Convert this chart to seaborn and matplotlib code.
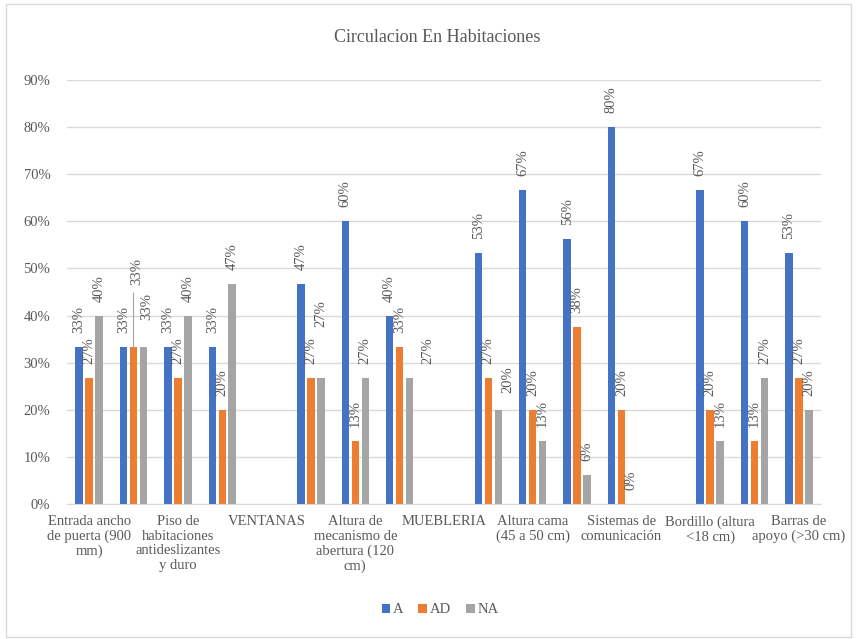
import pandas as pd
import matplotlib.pyplot as plt
import seaborn as sns
from matplotlib.patches import Rectangle

# data (percent); empty groups are section headers with no values
items = list(range(1, 18))
tick_labels = ["Entrada ancho\nde puerta (900\nmm)", "",
               "Piso de\nhabitaciones\nantideslizantes\ny duro", "",
               "VENTANAS", "",
               "Altura de\nmecanismo de\nabertura (120\ncm)", "",
               "MUEBLERIA", "",
               "Altura cama\n(45 a 50 cm)", "",
               "Sistemas de\ncomunicación", "",
               "Bordillo (altura\n<18 cm)", "",
               "Barras de\napoyo (>30 cm)"]
A  = [33.3, 33.3, 33.3, 33.3, None, 46.7, 60.0, 40.0, None, 53.3, 66.7, 56.25, 80.0, None, 66.7, 60.0, 53.3]
AD = [26.7, 33.3, 26.7, 20.0, None, 26.7, 13.3, 33.3, None, 26.7, 20.0, 37.5, 20.0, None, 20.0, 13.3, 26.7]
NA = [40.0, 33.3, 40.0, 46.7, None, 26.7, 26.7, 26.7, None, 20.0, 13.3, 6.25, 0.0, None, 13.3, 26.7, 20.0]
series = ["A", "AD", "NA"]
colors = ["#4472C4", "#ED7D31", "#A5A5A5"]

df = pd.DataFrame({"item": items * 3,
                   "serie": ["A"] * 17 + ["AD"] * 17 + ["NA"] * 17,
                   "valor": A + AD + NA}).dropna()

# labels that were moved by hand in the original chart (offset points)
label_shift = {(1, "AD"): (2, 45), (1, "NA"): (2.5, 19.5), (5, "NA"): (0, 37),
               (7, "NA"): (13, 10), (9, "NA"): (6.5, 12)}

txt = "#595959"
plt.rcParams["font.family"] = ["Liberation Serif", "DejaVu Serif"]

fig = plt.figure(figsize=(8.58, 6.39), dpi=100)
ax = fig.add_axes([0.0781, 0.2113, 0.8788, 0.6635])
sns.barplot(data=df, x="item", y="valor", hue="serie", order=items, hue_order=series,
            palette=colors, width=0.675, gap=0.25, ax=ax, saturation=1)

for h, cont in zip(series, ax.containers):
    for p in cont:
        v = p.get_height()
        xc = p.get_x() + p.get_width() / 2
        k = int(round(xc))
        dx, dy = label_shift.get((k, h), (0, 10))
        ax.annotate(f"{v:.0f}%", (xc, v), xytext=(dx, dy), textcoords="offset points",
                    ha="center", va="bottom", rotation=90, fontsize=10.5, color=txt)
        if (k, h) == (1, "AD"):
            ax.annotate("", (xc, v), xytext=(0, 39), textcoords="offset points",
                        arrowprops=dict(arrowstyle="-", color="#A6A6A6", lw=0.8,
                                        shrinkA=0, shrinkB=0))

ax.set_ylim(0, 90)
ax.set_yticks(range(0, 91, 10))
ax.set_yticklabels([f"{t}%" for t in range(0, 91, 10)])
ax.set_xticks(range(len(items)))
ax.set_xticklabels(tick_labels, linespacing=1.15)
ax.set_xlim(-0.5, len(items) - 0.5)
ax.set_xlabel("")
ax.set_ylabel("")
ax.tick_params(axis="both", length=0, labelsize=10.5, labelcolor=txt)
ax.tick_params(axis="x", pad=8)
ax.tick_params(axis="y", pad=12)
ax.grid(axis="y", color="#D9D9D9", lw=1)
ax.set_axisbelow(True)
for s in ["top", "right", "left"]:
    ax.spines[s].set_visible(False)
ax.spines["bottom"].set_color("#D9D9D9")
ax.set_facecolor("white")

sns.move_legend(ax, "center", bbox_to_anchor=(0.495, -0.25), ncol=3, frameon=False,
                title=None, fontsize=10.5, handlelength=0.6, handleheight=0.6,
                handletextpad=0.2, columnspacing=1.0, labelcolor=txt)

fig.text(0.51, 0.942, "Circulacion En Habitaciones", ha="center", va="center",
         fontsize=13, color=txt)
fig.patches.append(Rectangle((6 / 858, 2 / 639), 845 / 858, 633 / 639, transform=fig.transFigure,
                             fill=False, edgecolor="#D9D9D9", lw=1))

plt.savefig("out.png", dpi=100)
